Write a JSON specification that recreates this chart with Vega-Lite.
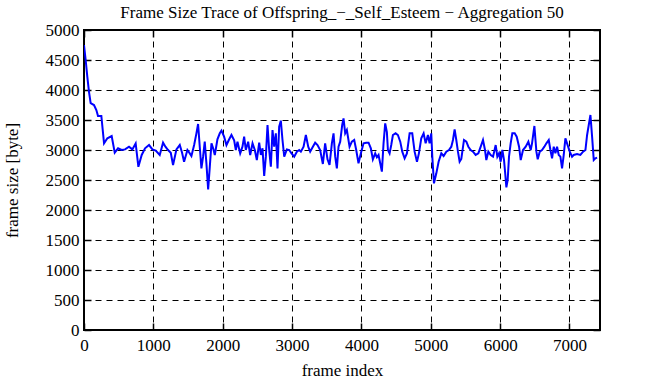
{
  "$schema": "https://vega.github.io/schema/vega-lite/v6.json",
  "width": 516,
  "height": 300,
  "autosize": {"type": "none"},
  "padding": {"left": 84, "top": 30, "right": 49, "bottom": 50},
  "background": "white",
  "title": {"text": "Frame Size Trace of Offspring_−_Self_Esteem − Aggregation 50", "font": "Liberation Serif", "fontSize": 17, "fontWeight": "normal", "color": "black", "offset": -1},
  "config": {
    "view": {"stroke": "black", "strokeWidth": 2},
    "axis": {
      "labelFont": "Liberation Serif", "labelFontSize": 17, "labelColor": "black",
      "titleFont": "Liberation Serif", "titleFontSize": 17, "titleFontWeight": "normal", "titleColor": "black",
      "domain": false, "tickColor": "black", "tickWidth": 1.5, "tickSize": -7,
      "gridColor": "black", "gridOpacity": 1, "gridDash": [6, 5], "gridWidth": 1
    }
  },
  "data": {"values": [
    {"frame":0,"size":4750},{"frame":24,"size":4500},{"frame":48,"size":4220},{"frame":72,"size":3970},{"frame":96,"size":3780},{"frame":144,"size":3750},{"frame":178,"size":3667},{"frame":202,"size":3567},{"frame":250,"size":3567},{"frame":289,"size":3110},{"frame":337,"size":3195},{"frame":399,"size":3233},{"frame":443,"size":2955},{"frame":491,"size":3028},{"frame":543,"size":3000},{"frame":592,"size":3010},{"frame":649,"size":3055},{"frame":697,"size":3010},{"frame":745,"size":3110},{"frame":784,"size":2720},{"frame":832,"size":2917},{"frame":880,"size":3028},{"frame":938,"size":3083},{"frame":986,"size":3010},{"frame":1034,"size":2990},{"frame":1092,"size":2917},
    {"frame":1140,"size":3122},{"frame":1174,"size":3055},{"frame":1212,"size":3000},{"frame":1251,"size":2955},{"frame":1284,"size":2750},{"frame":1333,"size":3011},{"frame":1381,"size":3083},{"frame":1414,"size":2955},{"frame":1443,"size":2805},{"frame":1491,"size":3000},{"frame":1525,"size":2944},{"frame":1549,"size":2900},{"frame":1588,"size":3083},{"frame":1621,"size":3278},{"frame":1645,"size":3433},{"frame":1669,"size":3055},{"frame":1693,"size":2694},{"frame":1717,"size":2889},{"frame":1741,"size":3139},{"frame":1765,"size":2778},{"frame":1790,"size":2344},{"frame":1814,"size":2722},{"frame":1838,"size":3111},{"frame":1862,"size":3028},{"frame":1886,"size":2917},{"frame":1924,"size":3178},{"frame":1958,"size":3278},{"frame":1982,"size":3322},{"frame":2020,"size":3222},{"frame":2054,"size":3083},{"frame":2088,"size":3167},{"frame":2126,"size":3250},
    {"frame":2165,"size":3160},{"frame":2189,"size":3000},{"frame":2213,"size":3139},{"frame":2252,"size":2944},{"frame":2285,"size":3055},{"frame":2309,"size":3222},{"frame":2333,"size":3000},{"frame":2367,"size":3139},{"frame":2396,"size":2917},{"frame":2430,"size":3111},{"frame":2463,"size":3000},{"frame":2492,"size":2833},{"frame":2526,"size":3122},{"frame":2550,"size":2917},{"frame":2574,"size":3028},{"frame":2598,"size":2567},{"frame":2622,"size":2889},{"frame":2646,"size":3417},{"frame":2670,"size":3000},{"frame":2694,"size":2722},{"frame":2718,"size":3333},{"frame":2742,"size":3055},{"frame":2766,"size":3278},{"frame":2790,"size":2694},{"frame":2814,"size":3389},{"frame":2838,"size":3489},{"frame":2862,"size":3167},{"frame":2887,"size":2889},{"frame":2925,"size":3011},{"frame":2959,"size":3000},{"frame":2992,"size":2944},{"frame":3031,"size":2889},{"frame":3069,"size":2972},{"frame":3103,"size":3000},{"frame":3127,"size":2972},{"frame":3166,"size":3055},{"frame":3199,"size":3250},{"frame":3233,"size":3055},
    {"frame":3261,"size":2972},{"frame":3300,"size":3055},{"frame":3333,"size":3122},{"frame":3367,"size":3083},{"frame":3405,"size":3000},{"frame":3444,"size":2767},{"frame":3477,"size":3111},{"frame":3511,"size":2844},{"frame":3540,"size":2750},{"frame":3574,"size":3111},{"frame":3598,"size":3278},{"frame":3622,"size":2889},{"frame":3646,"size":2694},{"frame":3670,"size":3055},{"frame":3694,"size":3139},{"frame":3723,"size":3417},{"frame":3742,"size":3528},{"frame":3766,"size":3278},{"frame":3790,"size":3333},{"frame":3829,"size":3055},{"frame":3862,"size":3139},{"frame":3896,"size":3167},{"frame":3925,"size":3000},{"frame":3958,"size":2778},{"frame":3992,"size":2944},{"frame":4031,"size":3111},{"frame":4069,"size":3122},{"frame":4103,"size":3122},{"frame":4136,"size":3028},{"frame":4165,"size":2844},{"frame":4199,"size":2944},{"frame":4223,"size":2878},{"frame":4247,"size":2917},{"frame":4271,"size":2778},{"frame":4295,"size":2639},{"frame":4319,"size":3111},{"frame":4343,"size":3444},
    {"frame":4367,"size":3300},{"frame":4382,"size":3000},{"frame":4406,"size":2944},{"frame":4430,"size":3083},{"frame":4454,"size":3250},{"frame":4493,"size":3278},{"frame":4526,"size":3250},{"frame":4560,"size":3139},{"frame":4589,"size":2972},{"frame":4623,"size":2861},{"frame":4656,"size":2944},{"frame":4695,"size":3278},{"frame":4733,"size":3278},{"frame":4767,"size":2972},{"frame":4801,"size":2805},{"frame":4829,"size":2944},{"frame":4863,"size":3194},{"frame":4897,"size":3278},{"frame":4926,"size":3111},{"frame":4959,"size":3250},{"frame":4983,"size":3111},{"frame":5007,"size":3278},{"frame":5022,"size":2889},{"frame":5046,"size":2444},{"frame":5080,"size":2611},{"frame":5113,"size":2805},{"frame":5152,"size":2944},{"frame":5185,"size":2900},{"frame":5224,"size":2972},{"frame":5262,"size":3000},{"frame":5296,"size":3055},{"frame":5320,"size":3167},{"frame":5344,"size":3344},{"frame":5368,"size":3167},{"frame":5392,"size":2972},{"frame":5416,"size":2805},
    {"frame":5440,"size":2850},{"frame":5479,"size":3167},{"frame":5513,"size":3139},{"frame":5542,"size":3055},{"frame":5575,"size":3000},{"frame":5609,"size":2972},{"frame":5647,"size":2917},{"frame":5686,"size":2944},{"frame":5720,"size":3055},{"frame":5753,"size":3167},{"frame":5782,"size":3000},{"frame":5801,"size":2833},{"frame":5830,"size":2972},{"frame":5864,"size":2917},{"frame":5898,"size":2889},{"frame":5936,"size":3083},{"frame":5960,"size":2889},{"frame":5984,"size":2944},{"frame":6008,"size":2805},{"frame":6032,"size":3000},{"frame":6056,"size":2833},{"frame":6071,"size":2639},{"frame":6090,"size":2378},{"frame":6109,"size":2500},{"frame":6128,"size":2889},{"frame":6152,"size":3111},{"frame":6176,"size":3278},{"frame":6210,"size":3278},{"frame":6239,"size":3222},{"frame":6273,"size":3055},{"frame":6297,"size":2833},{"frame":6330,"size":3000},{"frame":6369,"size":3055},{"frame":6407,"size":3139},
    {"frame":6441,"size":3000},{"frame":6460,"size":3111},{"frame":6494,"size":3400},{"frame":6523,"size":2972},{"frame":6542,"size":2844},{"frame":6571,"size":2972},{"frame":6604,"size":3000},{"frame":6638,"size":3055},{"frame":6667,"size":3111},{"frame":6701,"size":3167},{"frame":6725,"size":3000},{"frame":6749,"size":2861},{"frame":6773,"size":3055},{"frame":6797,"size":2944},{"frame":6821,"size":3055},{"frame":6845,"size":2917},{"frame":6869,"size":2889},{"frame":6893,"size":2694},{"frame":6917,"size":2917},{"frame":6941,"size":3194},{"frame":6965,"size":3111},{"frame":7004,"size":2972},{"frame":7037,"size":2889},{"frame":7061,"size":2917},{"frame":7109,"size":2933},{"frame":7157,"size":2917},{"frame":7196,"size":2972},{"frame":7230,"size":3000},{"frame":7254,"size":3250},{"frame":7278,"size":3417},{"frame":7302,"size":3583},{"frame":7326,"size":3222},{"frame":7350,"size":2833},{"frame":7374,"size":2861},{"frame":7398,"size":2872}
  ]},
  "resolve": {"axis": {"x": "independent", "y": "independent"}},
  "layer": [
    {
      "mark": {"type": "line", "color": "#0000ff", "strokeWidth": 2, "clip": true},
      "encoding": {
        "x": {"field": "frame", "type": "quantitative", "scale": {"domain": [0, 7440], "nice": false, "zero": false},
              "axis": {"orient": "bottom", "title": "frame index", "values": [0,1000,2000,3000,4000,5000,6000,7000], "format": "d", "labelPadding": 14, "titlePadding": 9, "grid": true, "labelFlush": false}},
        "y": {"field": "size", "type": "quantitative", "scale": {"domain": [0, 5000], "nice": false},
              "axis": {"orient": "left", "title": "frame size [byte]", "values": [0,500,1000,1500,2000,2500,3000,3500,4000,4500,5000], "format": "d", "labelPadding": 12, "titlePadding": 24, "grid": true, "labelFlush": false}}
      }
    },
    {
      "mark": {"type": "point", "opacity": 0},
      "encoding": {
        "x": {"field": "frame", "type": "quantitative", "axis": {"orient": "top", "title": null, "labels": false, "grid": false, "values": [0,1000,2000,3000,4000,5000,6000,7000]}},
        "y": {"field": "size", "type": "quantitative", "axis": {"orient": "right", "title": null, "labels": false, "grid": false, "values": [0,500,1000,1500,2000,2500,3000,3500,4000,4500,5000]}}
      }
    }
  ]
}
